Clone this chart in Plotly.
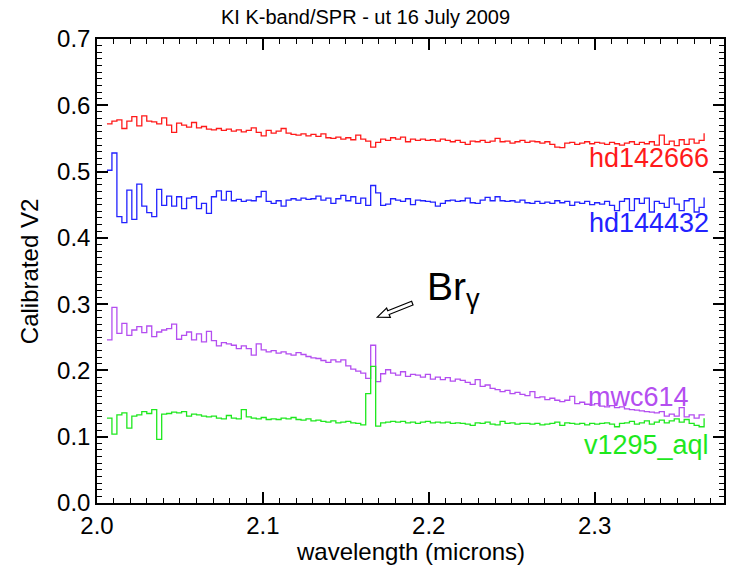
import plotly.graph_objects as go

# wavelength channels (microns)
wavelength = [round(2.006 + 0.003 * i, 3) for i in range(121)]

hd142666 = [
    0.572, 0.576, 0.578, 0.565, 0.576, 0.583, 0.569, 0.584, 0.576, 0.575,
    0.572, 0.581, 0.570, 0.559, 0.573, 0.570, 0.567, 0.574, 0.566, 0.568,
    0.564, 0.563, 0.565, 0.562, 0.564, 0.561, 0.563, 0.560, 0.562, 0.566,
    0.559, 0.554, 0.562, 0.558, 0.561, 0.565, 0.558, 0.556, 0.555, 0.557,
    0.554, 0.556, 0.553, 0.557, 0.551, 0.550, 0.552, 0.549, 0.551, 0.548,
    0.555, 0.549, 0.546, 0.537, 0.544, 0.549, 0.547, 0.551, 0.549, 0.552,
    0.545, 0.549, 0.547,
    0.549, 0.547, 0.548, 0.546, 0.549, 0.547, 0.545, 0.547, 0.544, 0.541,
    0.546, 0.545, 0.547, 0.544, 0.546, 0.550, 0.545, 0.546, 0.543, 0.545,
    0.547, 0.544, 0.546, 0.545, 0.543, 0.545, 0.541, 0.537, 0.536, 0.543,
    0.544, 0.541, 0.543, 0.545, 0.542, 0.544, 0.543, 0.541, 0.544, 0.542,
    0.540, 0.543, 0.545, 0.541, 0.544, 0.542, 0.545, 0.540, 0.555, 0.541,
    0.546, 0.539, 0.548, 0.541, 0.549, 0.543, 0.547, 0.558,
]

hd144432 = [
    0.502, 0.528, 0.432, 0.423, 0.472, 0.428, 0.481, 0.448, 0.438, 0.432,
    0.473, 0.449, 0.463, 0.448, 0.462, 0.444, 0.460, 0.462, 0.444, 0.452,
    0.437, 0.462, 0.471, 0.457, 0.470, 0.456, 0.458, 0.455, 0.457, 0.456,
    0.462, 0.470, 0.455, 0.452, 0.456, 0.448, 0.457, 0.459, 0.457, 0.460,
    0.458, 0.459, 0.463, 0.457, 0.460, 0.452, 0.459, 0.464, 0.456, 0.462,
    0.452, 0.460, 0.449, 0.479, 0.468, 0.449, 0.451, 0.459, 0.457, 0.455,
    0.459, 0.450, 0.457,
    0.456, 0.455, 0.454, 0.448, 0.452, 0.456, 0.457, 0.455, 0.456, 0.460,
    0.453, 0.452, 0.457, 0.461, 0.456, 0.462, 0.456, 0.455, 0.456, 0.454,
    0.457, 0.453, 0.452, 0.455, 0.452, 0.454, 0.452, 0.456, 0.453, 0.455,
    0.449, 0.454, 0.452, 0.455, 0.450, 0.453, 0.451, 0.455, 0.449, 0.441,
    0.455, 0.459, 0.441, 0.459, 0.452, 0.460, 0.439, 0.455, 0.452, 0.446,
    0.460, 0.451, 0.441, 0.456, 0.459, 0.439, 0.446, 0.461,
]

mwc614 = [
    0.246, 0.295, 0.256, 0.271, 0.253, 0.261, 0.266, 0.257, 0.267, 0.251,
    0.258, 0.261, 0.263, 0.270, 0.247, 0.253, 0.258, 0.246, 0.255, 0.243,
    0.259, 0.245, 0.237, 0.242, 0.240, 0.238, 0.233, 0.237, 0.233, 0.223,
    0.240, 0.231, 0.228, 0.230, 0.226, 0.228, 0.225, 0.223, 0.227, 0.224,
    0.221, 0.219, 0.218, 0.215, 0.212, 0.216, 0.213, 0.216, 0.207, 0.202,
    0.199, 0.196, 0.188, 0.238, 0.183, 0.195, 0.201, 0.196, 0.193, 0.198,
    0.191, 0.194, 0.193,
    0.190, 0.194, 0.187, 0.190, 0.186, 0.189, 0.184, 0.187, 0.185, 0.182,
    0.179, 0.186, 0.176, 0.178, 0.173, 0.171, 0.168, 0.170, 0.165, 0.167,
    0.164, 0.162, 0.168, 0.159, 0.160, 0.156, 0.158, 0.155, 0.153, 0.155,
    0.161, 0.150, 0.152, 0.149, 0.148, 0.150, 0.146, 0.145, 0.147, 0.144,
    0.145, 0.142, 0.141, 0.140, 0.139, 0.138, 0.137, 0.136, 0.138, 0.131,
    0.134, 0.131, 0.144, 0.130, 0.133, 0.128, 0.133, 0.134,
]

v1295_aql = [
    0.128, 0.104, 0.133, 0.136, 0.113, 0.131, 0.133, 0.138, 0.135, 0.141,
    0.096, 0.134, 0.135, 0.137, 0.136, 0.138, 0.131, 0.134, 0.133, 0.131,
    0.130, 0.131, 0.128, 0.127, 0.132, 0.128, 0.127, 0.141, 0.130, 0.128,
    0.127, 0.129, 0.126, 0.127, 0.126, 0.128, 0.127, 0.129, 0.126, 0.125,
    0.127, 0.124, 0.125, 0.123, 0.122, 0.124, 0.121, 0.122, 0.123, 0.121,
    0.120, 0.118, 0.165, 0.206, 0.116, 0.121, 0.122, 0.123, 0.122, 0.123,
    0.121, 0.122, 0.120,
    0.122, 0.123, 0.121, 0.122, 0.121, 0.122, 0.120, 0.121, 0.120, 0.119,
    0.117, 0.121, 0.120, 0.122, 0.119, 0.118, 0.123, 0.120, 0.121, 0.119,
    0.120, 0.120, 0.119, 0.120, 0.118, 0.119, 0.120, 0.122, 0.117, 0.121,
    0.120, 0.119, 0.120, 0.118, 0.120, 0.119, 0.120, 0.121, 0.119, 0.115,
    0.120, 0.121, 0.123, 0.119, 0.121, 0.124, 0.119, 0.122, 0.125, 0.121,
    0.124, 0.127, 0.122, 0.126, 0.120, 0.117, 0.115, 0.128,
]

series_names = ["hd142666", "hd144432", "mwc614", "v1295_aql"]
series_values = [hd142666, hd144432, mwc614, v1295_aql]
series_colors = ["#ff1a1a", "#2222ff", "#b44ef0", "#1ee81e"]
label_x = [2.3704, 2.3704, 2.3584, 2.3704]
label_y = [0.520, 0.4223, 0.1606, 0.0882]

FONT = "Liberation Sans, Arial, Helvetica, sans-serif"

fig = go.Figure()
for name, vals, col in zip(series_names, series_values, series_colors):
    fig.add_trace(go.Scatter(
        x=wavelength, y=vals, mode="lines", name=name,
        line=dict(color=col, width=1.3, shape="hv"),
        showlegend=False, hoverinfo="skip",
    ))

for name, col, lx, ly in zip(series_names, series_colors, label_x, label_y):
    fig.add_annotation(x=lx, y=ly, text=name, showarrow=False,
                       xanchor="right", yanchor="middle",
                       font=dict(family=FONT, size=27, color=col))

# Br gamma label
fig.add_annotation(x=2.198, y=0.322, text="Br<sub>γ</sub>", showarrow=False,
                   xanchor="left", yanchor="middle",
                   font=dict(family=FONT, size=39, color="black"))

# hollow arrow pointing at the line
fig.add_shape(type="path", xref="x", yref="y",
              xsizemode="pixel", ysizemode="pixel",
              xanchor=2.169, yanchor=0.2805,
              path="M 0,0 L 9.3,9.1 L 10.4,6.3 L 34.3,15.9 L 35.7,12.1 L 11.8,2.6 L 13.0,-0.2 Z",
              line=dict(color="black", width=1.2), fillcolor="white")

# axis titles
fig.add_annotation(xref="paper", yref="paper", x=0.5, y=-0.104,
                   text="wavelength (microns)", showarrow=False,
                   xanchor="center", yanchor="middle",
                   font=dict(family=FONT, size=24, color="black"))
fig.add_annotation(xref="paper", yref="paper", x=-67 / 629, y=0.498,
                   text="Calibrated V2", showarrow=False, textangle=-90,
                   xanchor="center", yanchor="middle",
                   font=dict(family=FONT, size=24, color="black"))

fig.update_xaxes(
    range=[2.0, 2.378], dtick=0.1, tickformat=".1f",
    showline=True, linecolor="black", linewidth=1.5, mirror="ticks",
    ticks="inside", ticklen=11, tickwidth=1.5, tickcolor="black",
    showgrid=False, zeroline=False,
    tickfont=dict(family=FONT, size=24, color="black"),
    minor=dict(dtick=0.01, ticks="inside", ticklen=5, tickwidth=1.2, tickcolor="black"),
)
fig.update_yaxes(
    range=[0.0, 0.7], dtick=0.1, tickformat=".1f",
    showline=True, linecolor="black", linewidth=1.5, mirror="ticks",
    ticks="inside", ticklen=11, tickwidth=1.5, tickcolor="black",
    showgrid=False, zeroline=False,
    tickfont=dict(family=FONT, size=24, color="black"),
    minor=dict(dtick=0.01, ticks="inside", ticklen=5, tickwidth=1.2, tickcolor="black"),
)

fig.update_layout(
    width=731, height=565,
    margin=dict(l=97, r=5, t=39, b=62),
    paper_bgcolor="white", plot_bgcolor="white",
    title=dict(text="KI K-band/SPR - ut 16 July 2009", x=0.5, xanchor="center",
               xref="container", y=1 - 17 / 565, yref="container", yanchor="middle",
               font=dict(family=FONT, size=20, color="black")),
)

fig.write_html("out.html", config={"displayModeBar": False},
               post_script="document.body.style.margin='0px';")
